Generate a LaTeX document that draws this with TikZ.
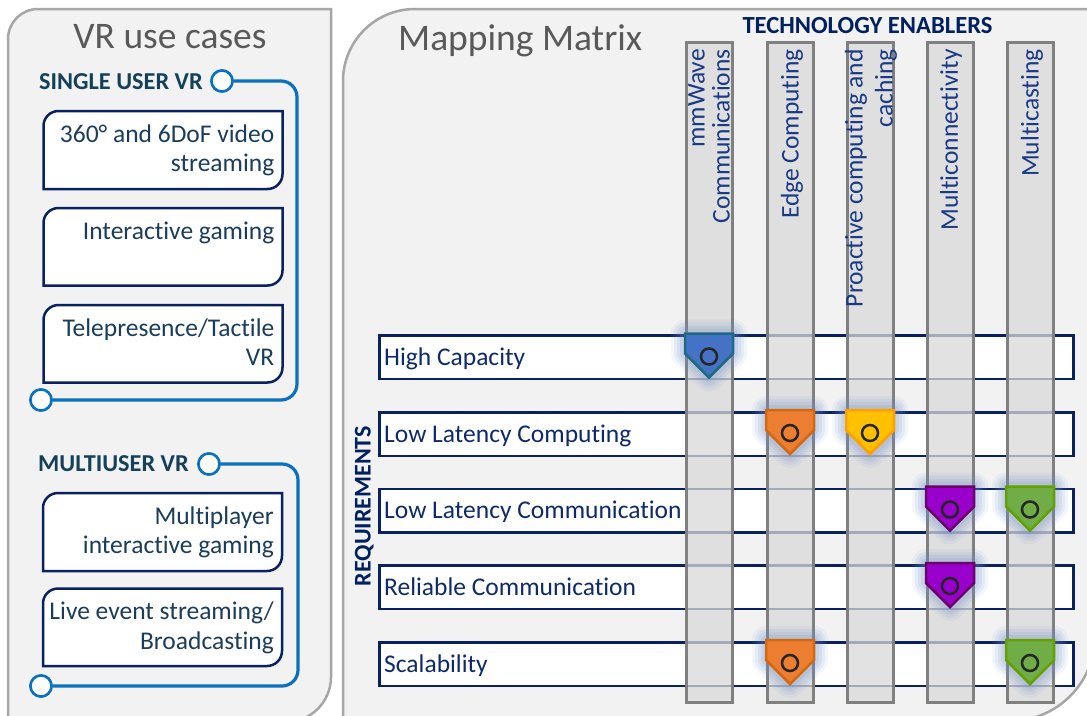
\documentclass[tikz,border=0pt]{standalone}
\usepackage{fontspec}
\setmainfont{Carlito}[Ligatures=NoCommon]
\definecolor{panelbg}{HTML}{F2F2F2}
\definecolor{panelline}{HTML}{A6A6A6}
\definecolor{navyline}{HTML}{0A2160}
\definecolor{uctxt}{HTML}{1B3D5C}
\definecolor{headtxt}{HTML}{15405A}
\definecolor{railblue}{HTML}{0A70C0}
\definecolor{titlegray}{HTML}{595959}
\definecolor{rowtxt}{HTML}{0E2A6A}
\definecolor{coltxt}{HTML}{1A3A85}
\definecolor{colfill}{HTML}{D9D9D9}
\definecolor{colline}{HTML}{808080}
\definecolor{techtxt}{HTML}{002060}
\definecolor{glowc}{HTML}{6F8FC8}
\definecolor{mkblue}{HTML}{4472C4}\definecolor{mkblueb}{HTML}{1F6A80}
\definecolor{mkorange}{HTML}{ED7D31}\definecolor{mkorangeb}{HTML}{D2680F}
\definecolor{mkyellow}{HTML}{FFC000}\definecolor{mkyellowb}{HTML}{FFA000}
\definecolor{mkpurple}{HTML}{9900CC}\definecolor{mkpurpleb}{HTML}{6B006B}
\definecolor{mkgreen}{HTML}{70AD47}\definecolor{mkgreenb}{HTML}{63A000}

\newcommand{\ucs}{\rule{0pt}{20pt}}
\newcommand{\ucbox}[5]{%
  \draw[ucframe] (#4,#3) -- (#4,{#2+15}) arc[start angle=180,end angle=90,radius=15pt]
    -- ({#4+239},#2) -- ({#4+239},{#3-15}) arc[start angle=0,end angle=-90,radius=15pt] -- cycle;
  \node[uctext] (#1) at ({#4+231},{#2+11}) {\ucs #5};
}
\newcommand{\mkshape}[2]{({#1-24},#2) -- ({#1+24},#2) -- ({#1+24},{#2+20}) -- (#1,{#2+44}) -- ({#1-24},{#2+20}) -- cycle}
\newcommand{\mkr}[5]{%
  \foreach \w/\o in {28/0.08,22/0.1,16/0.12,10/0.15}{
    \draw[glowc, line width=\w pt, opacity=\o, line join=round] \mkshape{#2}{#3};
  }
  \draw[fill=#4, draw=#5, line width=2.5pt, line join=miter] \mkshape{#2}{#3};
  \node[mkcirc, fill=#4] (#1) at (#2,{#3+23}) {};
}

\tikzset{
  panel/.style={fill=panelbg, draw=panelline, line width=2.5pt},
  ucframe/.style={draw=navyline, line width=2.5pt, fill=white},
  uctext/.style={font=\fontsize{25.5}{29.5}\selectfont, text=uctxt, align=right, inner sep=0pt, anchor=north east},
  heading/.style={font=\bfseries\fontsize{24.3}{28}\selectfont, text=headtxt, inner sep=0pt, anchor=base west},
  title/.style={font=\fontsize{37.5}{42}\selectfont, text=titlegray, inner sep=0pt},
  rail/.style={draw=railblue, line width=3.2pt, rounded corners=16pt},
  railend/.style={circle, draw=railblue, line width=2.5pt, fill=white, minimum size=21pt, inner sep=0pt},
  reqrow/.style={draw=navyline, line width=2.5pt, fill=white, minimum width=694pt, minimum height=43.5pt, anchor=north west, inner sep=0pt},
  reqtext/.style={font=\fontsize{25.5}{30}\selectfont, text=rowtxt, inner sep=0pt, anchor=base west},
  techcol/.style={draw=colline, line width=3pt, fill=colfill, fill opacity=0.75, minimum width=46pt, minimum height=660pt, inner sep=0pt},
  techtext/.style={rotate=90, anchor=east, font=\fontsize{25.5}{25}\selectfont, text=coltxt, align=right, inner sep=0pt},
  bighead/.style={font=\bfseries\fontsize{24.6}{28}\selectfont, text=techtxt, inner sep=0pt, anchor=base},
  mkcirc/.style={circle, draw=black!85, line width=2.5pt, minimum size=16pt, inner sep=0pt},
}

\begin{document}
\begin{tikzpicture}[x=1pt,y=-1pt]
\useasboundingbox (0,0) rectangle (1087,715);
\fill[white] (0,0) rectangle (1087,715);

% panels
\draw[panel] (8,722) -- (8,39) arc[start angle=180,end angle=90,radius=30pt] -- (331,9) -- (331,677) arc[start angle=0,end angle=-90,radius=45pt] -- cycle;
\draw[panel] (343,721) -- (343,81) arc[start angle=180,end angle=90,radius=72pt] -- (1095,9) -- (1095,636) arc[start angle=0,end angle=-90,radius=85pt] -- cycle;

\node[title, anchor=base] (ttl1) at (170,48) {VR use cases};
\node[title, anchor=base west] (ttl2) at (398,50) {Mapping Matrix};

% left panel: use cases
\node[heading] (hs) at (39,89) {SINGLE USER VR};
\node[railend] (s1) at (222,81) {};
\node[railend] (s2) at (41,400) {};
\draw[rail] (s1.east) -- (297,81) -- (297,400) -- (s2.east);
\node[railend] (s1b) at (222,81) {};
\node[railend] (s2b) at (41,400) {};

\ucbox{u1}{111}{189}{43.5}{360° and 6DoF video\\streaming}
\ucbox{u2}{208}{285.5}{43.5}{Interactive gaming}
\ucbox{u3}{305}{382.5}{43.5}{Telepresence/Tactile\\VR}

\node[heading] (hm) at (38,471.5) {MULTIUSER VR};
\node[railend] (m1) at (209,464) {};
\node[railend] (m2) at (41,686) {};
\draw[rail] (m1.east) -- (298,464) -- (298,686) -- (m2.east);
\node[railend] (m1b) at (209,464) {};
\node[railend] (m2b) at (41,686) {};

\ucbox{u4}{493}{571}{43}{Multiplayer\\interactive gaming}
\ucbox{u5}{588.5}{666}{43}{Live event streaming/\\Broadcasting}

% right panel: mapping matrix
\node[bighead] (te) at (867.5,33) {TECHNOLOGY ENABLERS};
\node[font=\bfseries\fontsize{24}{28}\selectfont, text=techtxt, inner sep=0pt, rotate=90, anchor=base] (rq) at (370.5,506) {REQUIREMENTS};

\foreach \n/\t in {r1/334, r2/411, r3/487.5, r4/564, r5/641}{
  \node[reqrow] (\n) at (378,\t) {};
}
\node[reqtext] (l1) at (384,365) {High Capacity};
\node[reqtext] (l2) at (384,442) {Low Latency Computing};
\node[reqtext] (l3) at (384,518.5) {Low Latency Communication};
\node[reqtext] (l4) at (384,595) {Reliable Communication};
\node[reqtext] (l5) at (384,672) {Scalability};

\foreach \n/\x in {c1/709, c2/790, c3/870, c4/950, c5/1030}{
  \node[techcol] (\n) at (\x,372) {};
}
\node[techtext] (e1) at (709,49) {mmWave\\Communications};
\node[techtext] (e2) at (792,49) {Edge Computing};
\node[techtext, font=\fontsize{25.5}{30}\selectfont] (e3) at (871,49) {Proactive computing and\\caching};
\node[techtext] (e4) at (951,49) {Multiconnectivity};
\node[techtext] (e5) at (1032,49) {Multicasting};

% markers
\mkr{k1}{709}{333.5}{mkblue}{mkblueb}
\mkr{k2}{790}{410}{mkorange}{mkorangeb}
\mkr{k3}{870}{410}{mkyellow}{mkyellowb}
\mkr{k4}{950}{486.5}{mkpurple}{mkpurpleb}
\mkr{k5}{1030}{486.5}{mkgreen}{mkgreenb}
\mkr{k6}{950}{563}{mkpurple}{mkpurpleb}
\mkr{k7}{790}{640}{mkorange}{mkorangeb}
\mkr{k8}{1030}{640}{mkgreen}{mkgreenb}
\end{tikzpicture}
\end{document}
